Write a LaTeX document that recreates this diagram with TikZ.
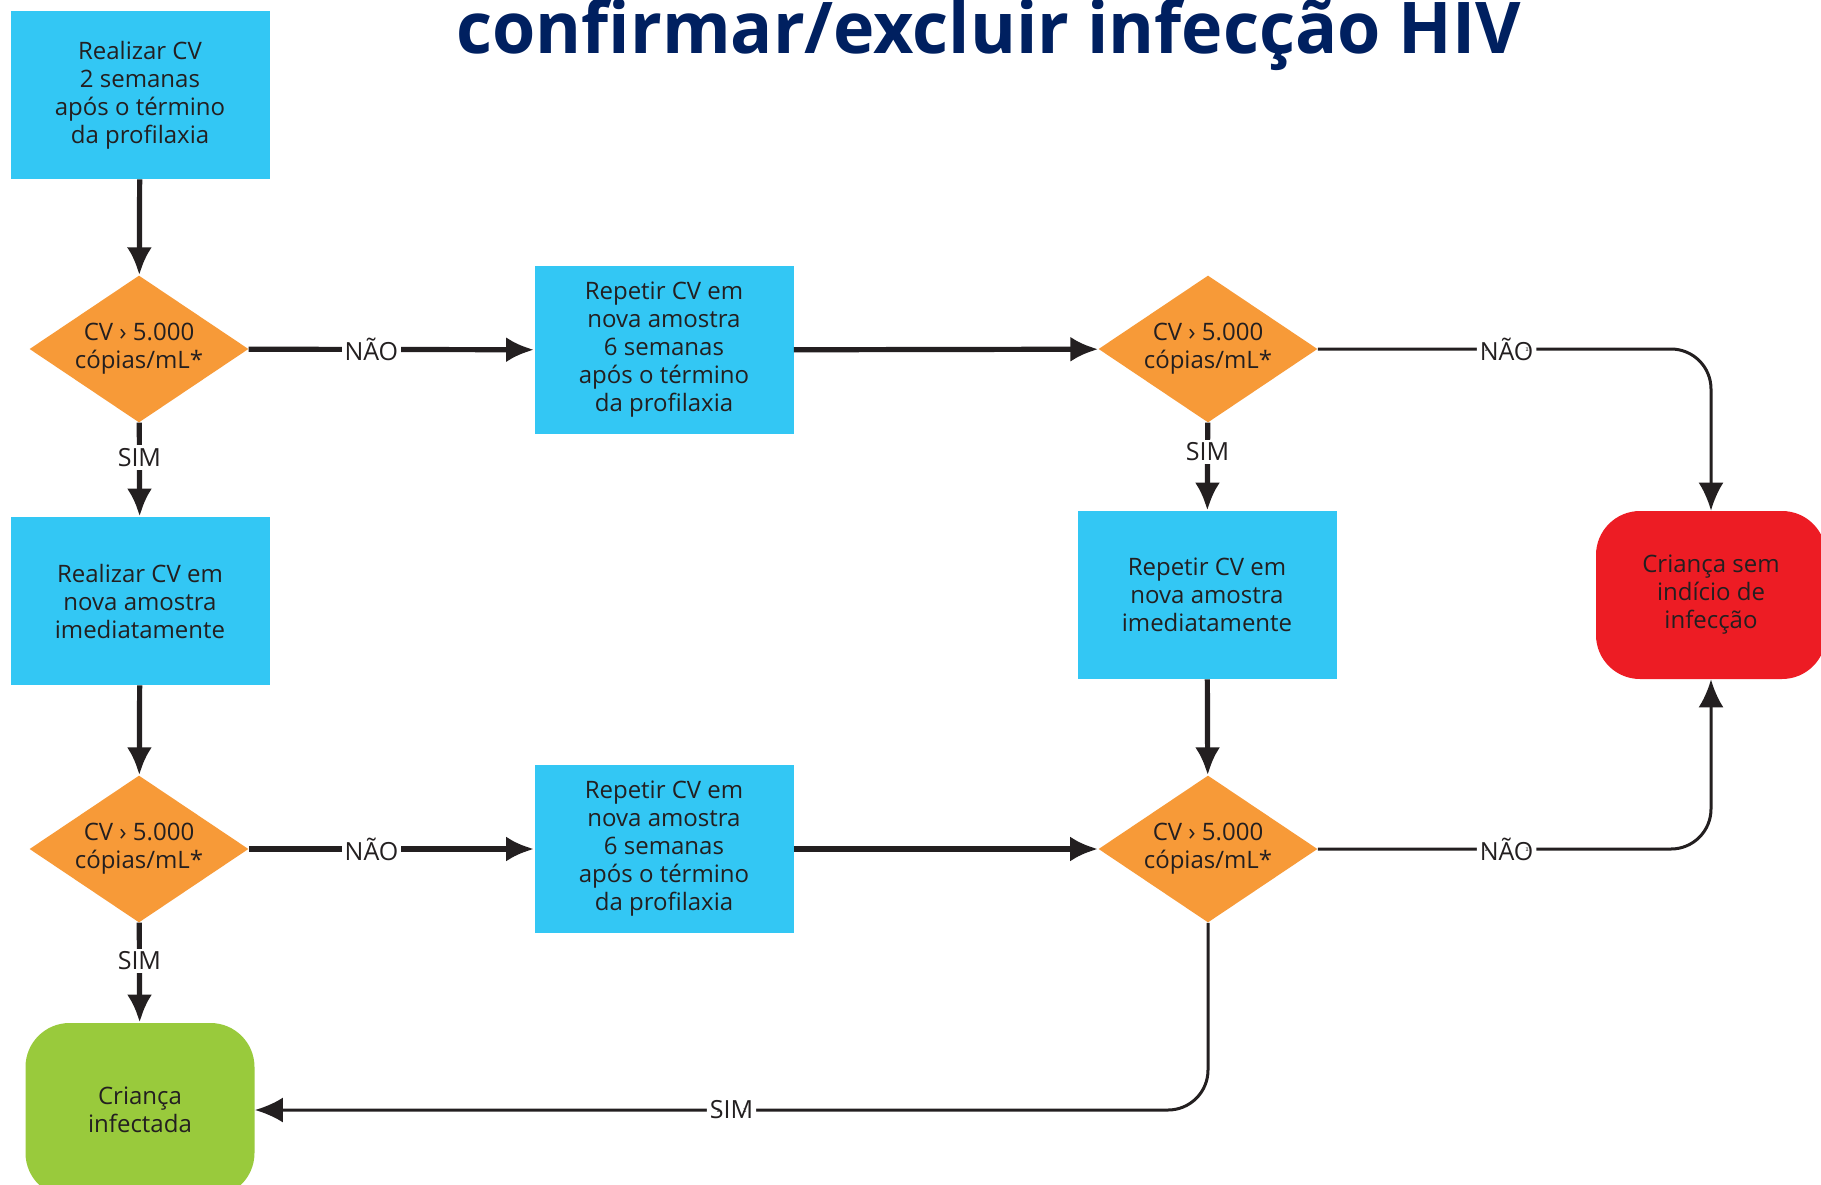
\documentclass[tikz,border=0pt]{standalone}
\usepackage{fontspec}
\setmainfont{Open Sans}
\usepackage{xcolor}
\usepackage{tikz}
\usetikzlibrary{arrows.meta,positioning,shapes.geometric}
\definecolor{boxblue}{RGB}{51,199,244}
\definecolor{testorange}{RGB}{247,154,56}
\definecolor{stopred}{RGB}{237,28,36}
\definecolor{okgreen}{RGB}{153,202,60}
\definecolor{inkgray}{RGB}{35,31,32}
\definecolor{titleblue}{RGB}{0,32,96}
\begin{document}
\begin{tikzpicture}[x=0.5pt, y=-0.5pt, >={Latex[length=14pt,width=12.5pt]},
  every node/.style={align=center, font=\fontsize{12}{14}\selectfont, text=inkgray},
  proc/.style={fill=boxblue, minimum width=129.5pt, minimum height=84pt, inner sep=0pt},
  test/.style={diamond, fill=testorange, minimum width=109.5pt, minimum height=73.5pt, inner sep=0pt, shape aspect=1.5},
  endbox/.style={rounded corners=22pt, minimum width=115pt, minimum height=84pt, inner sep=0pt},
  flow/.style={->, line width=2.6pt, draw=inkgray},
  elbow/.style={->, line width=1.5pt, draw=inkgray, rounded corners=20pt},
  answer/.style={fill=white, inner sep=1.5pt, font=\fontsize{12.5}{14}\selectfont}]
\useasboundingbox (0,0) rectangle (1821,1184);
\clip (0,0) rectangle (1821,1184);
\fill[white] (0,0) rectangle (1821,1184);
\node[anchor=base, font=\bfseries\fontsize{35}{40}\selectfont, text=titleblue] (title) at (989,53) {\scalebox{1}[1.02]{confirmar/excluir infecção HIV}};
\node[proc] (b1) at (140,95) {Realizar CV\\2 semanas\\após o término\\da profilaxia};
\node[test] (d1) at (139,349) {CV › 5.000\\cópias/mL*};
\node[proc] (m1) at (664,350) {Repetir CV em\\nova amostra\\6 semanas\\após o término\\da profilaxia};
\node[test] (d2) at (1208,349) {CV › 5.000\\cópias/mL*};
\node[proc] (b2) at (140,601) {Realizar CV em\\nova amostra\\imediatamente};
\node[proc] (b4) at (1207,595) {Repetir CV em\\nova amostra\\imediatamente};
\node[endbox, fill=stopred] (red) at (1711,595) {Criança sem\\indício de\\infecção};
\node[test] (d3) at (139,849) {CV › 5.000\\cópias/mL*};
\node[proc] (m2) at (664,849) {Repetir CV em\\nova amostra\\6 semanas\\após o término\\da profilaxia};
\node[test] (d4) at (1208,849) {CV › 5.000\\cópias/mL*};
\node[endbox, fill=okgreen, minimum height=87pt, minimum width=114.5pt] (green) at (140,1110) {Criança\\infectada};
\draw[flow] (b1) -- (d1);
\draw[flow] (d1) -- node[answer, pos=0.43] {NÃO} (m1);
\draw[flow] (d1) -- node[answer, pos=0.37] {SIM} (b2);
\draw[flow] (m1) -- (d2);
\draw[elbow] (d2) -| node[answer, pos=0.24] {NÃO} (red);
\draw[flow] (d2) -- node[answer, pos=0.33] {SIM} (b4);
\draw[flow] (b4) -- (d4);
\draw[elbow] (d4) -| node[answer, pos=0.24] {NÃO} (red);
\draw[flow] (b2) -- (d3);
\draw[flow] (d3) -- node[answer, pos=0.43] {NÃO} (m2);
\draw[flow] (m2) -- (d4);
\draw[flow] (d3) -- node[answer, pos=0.38] {SIM} (green);
\draw[elbow] (d4) |- node[answer, pos=0.75] {SIM} (green);
\end{tikzpicture}
\end{document}
